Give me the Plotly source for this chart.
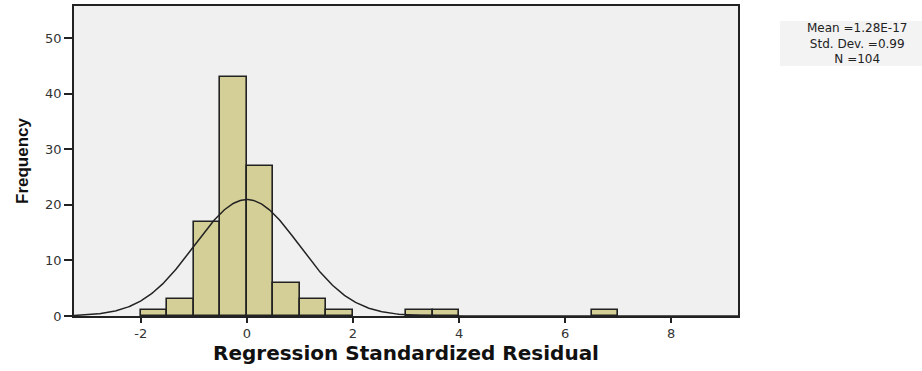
import numpy as np
import plotly.graph_objects as go

# Histogram data (bin width 0.5)
bin_left = [-2.0, -1.5, -1.0, -0.5, 0.0, 0.5, 1.0, 1.5, 3.0, 3.5, 6.5]
frequency = [1, 3, 17, 43, 27, 6, 3, 1, 1, 1, 1]
bin_width = 0.5
mean = 1.28e-17
std_dev = 0.99
n_obs = 104
x_ticks = [-2, 0, 2, 4, 6, 8]
x_tick_text = ["-2", "0", "2", "4", "6", "8"]
y_ticks = [0, 10, 20, 30, 40, 50]
stats_lines = ["Mean =1.28E-17", "Std. Dev. =0.99", "N =104"]

centers = [b + bin_width / 2 for b in bin_left]

# Fitted normal curve (defined by mean, std dev, N)
xs = np.linspace(-3.26, 9.26, 600)
ys = n_obs * bin_width * np.exp(-0.5 * ((xs - mean) / std_dev) ** 2) / (std_dev * np.sqrt(2 * np.pi))

fig = go.Figure()
fig.add_trace(go.Bar(
    x=centers, y=frequency, width=bin_width,
    marker=dict(color="#D4CF97", line=dict(color="#222222", width=1.6)),
    showlegend=False, hoverinfo="skip",
))
fig.add_trace(go.Scatter(
    x=xs, y=ys, mode="lines",
    line=dict(color="#222222", width=1.5),
    showlegend=False, hoverinfo="skip",
))

annotations = [dict(
    xref="paper", yref="paper", x=1.1795, y=(316 - 44) / 310,
    xanchor="center", yanchor="middle", showarrow=False,
    text="<br>".join(stats_lines), align="center",
    font=dict(family="DejaVu Sans, sans-serif", size=12, color="#222222"),
)]

fig.update_layout(
    width=922, height=371,
    margin=dict(l=74, r=184, t=6, b=55, autoexpand=False),
    paper_bgcolor="white",
    plot_bgcolor="#F0F0F0",
    font=dict(family="DejaVu Sans, sans-serif", color="#333333", size=13),
    bargap=0,
    xaxis=dict(
        range=[-3.26, 9.26], tickvals=x_ticks, ticktext=x_tick_text,
        ticks="outside", ticklen=5,
        tickcolor="#222222", tickwidth=1.5,
        showline=True, linecolor="#222222", linewidth=1.5, mirror=True,
        showgrid=False, zeroline=False,
        title=dict(text="<b>Regression Standardized Residual</b>",
                   font=dict(family="DejaVu Sans, sans-serif", size=20, color="#111111"), standoff=6),
        tickfont=dict(size=13, color="#333333"),
    ),
    yaxis=dict(
        range=[0, 55.8], tickvals=y_ticks, ticks="outside", ticklen=8,
        tickcolor="#222222", tickwidth=1.5,
        showline=True, linecolor="#222222", linewidth=1.5, mirror=True,
        showgrid=False, zeroline=False,
        title=dict(text="<b>Frequency</b>",
                   font=dict(family="Liberation Sans, Arial, sans-serif", size=17, color="#111111"), standoff=12),
        tickfont=dict(size=13, color="#333333"),
    ),
    shapes=[dict(type="rect", xref="paper", yref="paper",
                 x0=(780 - 74) / 664, x1=(922 - 74) / 664,
                 y0=(316 - 66) / 310, y1=(316 - 21) / 310,
                 fillcolor="#F3F3F3", line=dict(width=0), layer="below")],
    annotations=annotations,
)

fig.write_html("out.html", config={"displayModeBar": False},
               post_script="document.body.style.margin='0';document.body.style.overflow='hidden';")
